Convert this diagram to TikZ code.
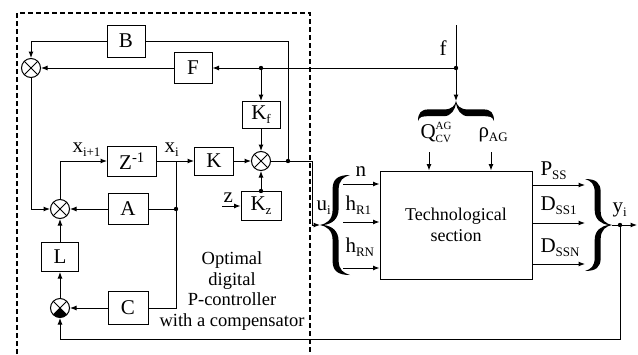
\documentclass[tikz,border=0pt]{standalone}
\usepackage{fontspec}
\setmainfont{Liberation Serif}
\usetikzlibrary{arrows.meta,calc}
\newcommand{\mybrace}[1]{\fill (1,1) .. controls (0.6,1) and (0.42,0.92) .. (0.42,0.72) -- (0.42,0.3) .. controls (0.42,0.1) and (0.2,0.02) .. (0,0) .. controls (0.2,-0.02) and (0.42,-0.1) .. (0.42,-0.3) -- (0.42,-0.72) .. controls (0.42,-0.92) and (0.6,-1) .. (1,-1) .. controls (0.78,-0.96) and (#1,-0.9) .. (#1,-0.7) -- (#1,-0.32) .. controls (#1,-0.12) and (0.4,-0.02) .. (0.12,0) .. controls (0.4,0.02) and (#1,0.12) .. (#1,0.32) -- (#1,0.7) .. controls (#1,0.9) and (0.78,0.96) .. (1,1) -- cycle;}
\newcommand{\sbs}[1]{\raisebox{-4pt}{\fontsize{13}{13}\selectfont #1}}
\newcommand{\sbq}[1]{\raisebox{-4.5pt}{\fontsize{11}{11}\selectfont #1}}
\newcommand{\sps}[1]{\raisebox{8.5pt}{\fontsize{11}{11}\selectfont #1}}
\begin{document}
\begin{tikzpicture}[x=1pt,y=-1pt, line width=1pt,
  >={Latex[length=6.5pt,width=5pt]},
  blk/.style={draw, inner sep=0, font=\fontsize{21}{21}\selectfont},
  lbl/.style={inner sep=0, font=\fontsize{21}{21}\selectfont, anchor=base west},
  sum/.style={draw, circle, minimum size=19pt, inner sep=0,
    path picture={\draw[line width=1pt] (path picture bounding box.north west) -- (path picture bounding box.south east) (path picture bounding box.north east) -- (path picture bounding box.south west);}},
  sumneg/.style={draw, circle, minimum size=19pt, inner sep=0,
    path picture={\fill (path picture bounding box.center) -- (path picture bounding box.south west) -- (path picture bounding box.south east) -- cycle;
    \draw[line width=1pt] (path picture bounding box.north west) -- (path picture bounding box.south east) (path picture bounding box.north east) -- (path picture bounding box.south west);}}
]
\useasboundingbox (0,0) rectangle (638,354);
% dashed controller frame
\draw[dash pattern=on 5pt off 3pt, line width=1.1pt] (17,354) -- (17,13) -- (310,13) -- (310,354);

% blocks
\node[blk, minimum width=38pt, minimum height=32pt] (B) at (126,41) {B};
\node[blk, minimum width=38pt, minimum height=31pt] (F) at (193,68) {F};
\node[blk, minimum width=38pt, minimum height=27pt] (Kf) at (261,115) {K\sbs{f}};
\node[blk, minimum width=39pt, minimum height=28pt] (K) at (214,161) {K};
\node[blk, minimum width=49pt, minimum height=30pt] (Z) at (132,161) {Z\textsuperscript{-1}};
\node[blk, minimum width=40pt, minimum height=31pt] (A) at (128,209) {A};
\node[blk, minimum width=37pt, minimum height=29pt] (L) at (60,257) {L};
\node[blk, minimum width=40pt, minimum height=33pt] (C) at (128,308) {C};
\node[blk, minimum width=40pt, minimum height=29pt] (Kz) at (261,206) {K\sbs{z}};
\node[draw, inner sep=0, minimum width=152pt, minimum height=108pt, align=center, font=\fontsize{18}{21}\selectfont] (T) at (456,225) {Technological\\section};

% sums
\node[sum] (S1) at (31,68) {};
\node[sum] (S2) at (60,209) {};
\node[sumneg] (S3) at (60,308) {};
\node[sum] (S4) at (261,161) {};

% coordinates
\coordinate (ftop) at (456,25);
\coordinate (jf) at (456,68);
\coordinate (jkf) at (261,68);
\coordinate (jb) at (288,161);
\coordinate (uc) at (312,161);
\coordinate (jxt) at (176,161);
\coordinate (jx) at (176,209);
\coordinate (jxb) at (176,308);
\coordinate (zin) at (222,206);
\coordinate (lbt) at (320,225);
\coordinate (rbt) at (612,225);
\coordinate (tbt) at (456,101);
\coordinate (jy) at (620,225);
\coordinate (yend) at (637,225);
\coordinate (fb) at (620,339);
\coordinate (in1) at (343,184);
\coordinate (in2) at (343,222);
\coordinate (in3) at (343,268);
\coordinate (o1) at (585,185);
\coordinate (o2) at (585,223);
\coordinate (o3) at (585,264);
\coordinate (qa) at (429,152);
\coordinate (ra) at (491,152);

% braces
\begin{scope}[shift={(lbt)}, x={(30pt,0pt)}, y={(0pt,50pt)}] \mybrace{0.62} \end{scope}
\begin{scope}[shift={(rbt)}, x={(-27pt,0pt)}, y={(0pt,46pt)}] \mybrace{0.64} \end{scope}
\begin{scope}[shift={(tbt)}, x={(0pt,-20pt)}, y={(38pt,0pt)}] \mybrace{0.76} \end{scope}

% connectors
\draw[->] (ftop) -- (tbt);
\draw[->] (jf) -- (F.east);
\draw[->] (F.west) -- (S1.east);
\draw[->] (B.west) -| (S1.north);
\draw (B.east) -| (jb);
\draw[->] (jkf) -- (Kf.north);
\draw[->] (Kf.south) -- (S4.north);
\draw[->] (K.east) -- (S4.west);
\draw[->] (Kz.north) -- (S4.south);
\draw[->] (zin) -- (Kz.west);
\draw[->] (S4.east) -- (uc) |- (lbt);
\draw[->] (Z.east) -- (K.west);
\draw[->] (S2.north) |- (Z.west);
\draw (jxt) -- (jxb) -- (C.east);
\draw (jx) -- (A.east);
\draw[->] (A.west) -- (S2.east);
\draw[->] (C.west) -- (S3.east);
\draw[->] (S3.north) -- (L.south);
\draw[->] (L.north) -- (S2.south);
\draw[->] (S1.south) |- (S2.west);
\draw[->] (jy) -- (fb) -| (S3.south);
\draw[->] (rbt) -- (yend);
\draw[->] (in1) -- (in1 -| T.west);
\draw[->] (in2) -- (in2 -| T.west);
\draw[->] (in3) -- (in3 -| T.west);
\draw[->] (o1 -| T.east) -- (o1);
\draw[->] (o2 -| T.east) -- (o2);
\draw[->] (o3 -| T.east) -- (o3);
\draw[->] (qa) -- (qa |- T.north);
\draw[->] (ra) -- (ra |- T.north);

% dots
\foreach \p in {jf,jkf,jb,jx,jy,Kz.north} \fill (\p) circle (2.2pt);

% labels
\node[lbl] (lx1) at (72,152) {x\sbs{i+1}};
\node[lbl] (lx) at (164,152) {x\sbs{i}};
\node[lbl] (lf) at (439,55) {f};
\node[lbl] (lz) at (223,202) {z};
\node[lbl] (ln) at (355,176) {n};
\node[lbl] (lh1) at (345,210) {h\sbs{R1}};
\node[lbl] (lhn) at (345,252) {h\sbs{RN}};
\node[lbl] (lu) at (316,210) {u\sbs{i}};
\node[lbl] (lp) at (540,175) {P\sbs{SS}};
\node[lbl] (ld1) at (540,210) {D\sbs{SS1}};
\node[lbl] (ldn) at (540,252) {D\sbs{SSN}};
\node[lbl] (ly) at (612,212) {y\sbs{i}};
\node[lbl] (lq) at (420,138) {Q\rlap{\sps{AG}}\sbq{CV}};
\node[lbl] (lr) at (478,137) {ρ\sbs{AG}};
\node[inner sep=0, align=center, font=\fontsize{18.5}{20.7}\selectfont] (cap) at (232,291) {Optimal\\digital\\P-controller\\with a compensator};
\end{tikzpicture}
\end{document}
